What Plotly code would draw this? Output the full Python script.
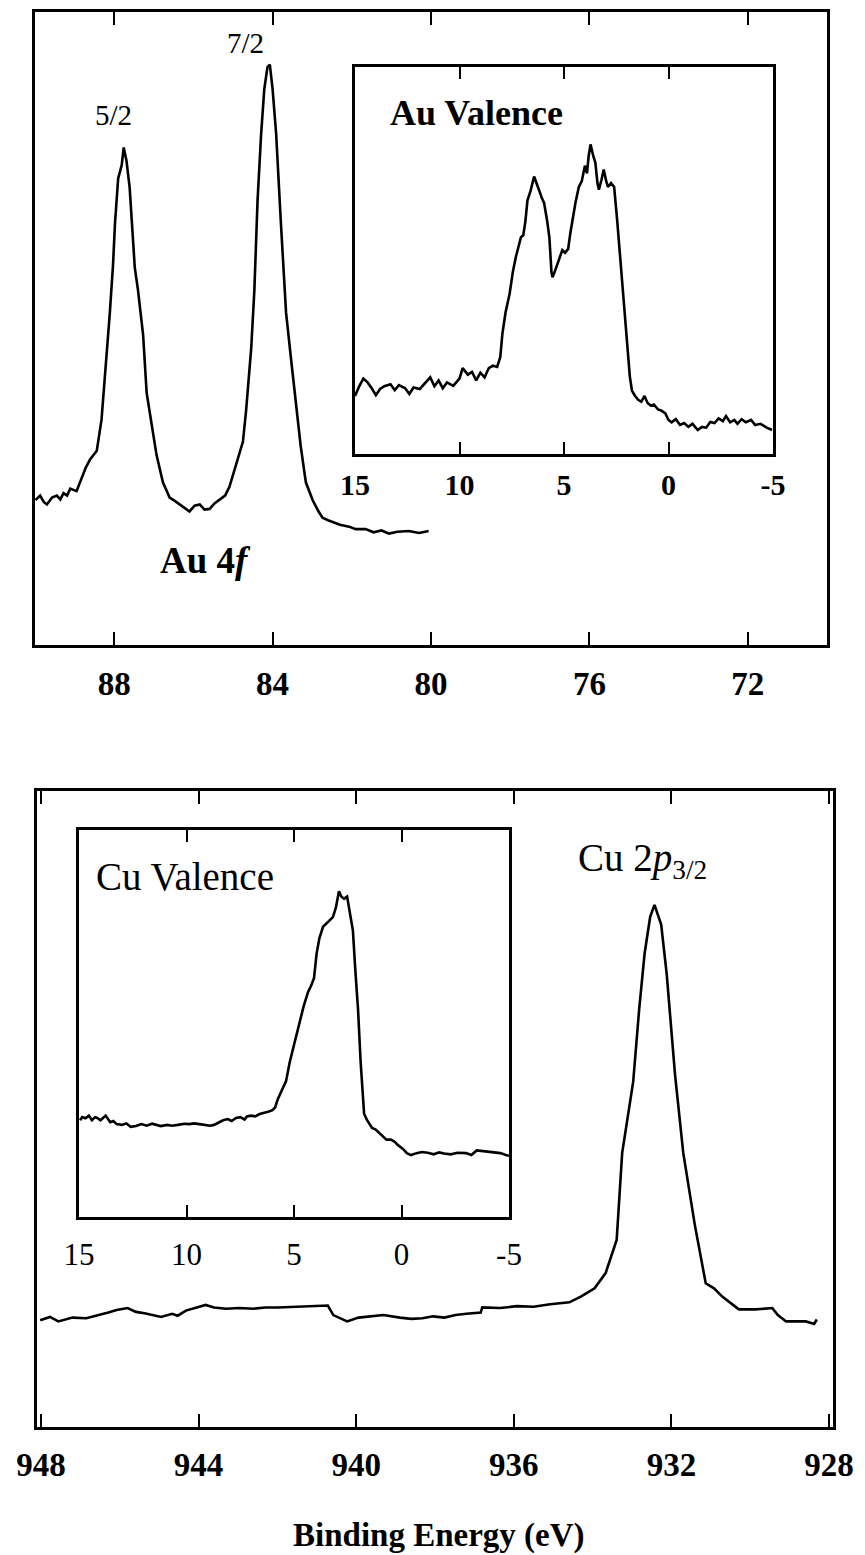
import plotly.graph_objects as go

W, H = 865, 1555
FONT = "Liberation Serif"

# ---------------- data ----------------
# Au 4f main spectrum: binding energy (eV) and normalized intensity
au4f_be = [89.99, 89.87, 89.78, 89.70, 89.57, 89.45, 89.36, 89.28, 89.19, 89.11, 88.95, 88.82,
           88.72, 88.61, 88.44, 88.32, 88.19, 88.11, 88.03, 87.98, 87.90, 87.81, 87.76, 87.69,
           87.61, 87.54, 87.48, 87.40, 87.27, 87.18, 87.06, 86.93, 86.77, 86.60, 86.48, 86.35,
           86.22, 86.10, 85.97, 85.84, 85.72, 85.59, 85.46, 85.34, 85.20, 85.09, 84.92, 84.75,
           84.67, 84.54, 84.46, 84.38, 84.29, 84.21, 84.13, 84.07, 84.00, 83.91, 83.79, 83.66,
           83.54, 83.41, 83.29, 83.16, 82.99, 82.85, 82.74, 82.60, 82.49, 82.30, 82.07, 81.90,
           81.65, 81.45, 81.25, 81.06, 80.85, 80.56, 80.30, 80.06]
au4f_int = [0.229, 0.236, 0.226, 0.222, 0.233, 0.236, 0.230, 0.240, 0.236, 0.247, 0.243, 0.264,
            0.280, 0.293, 0.307, 0.356, 0.455, 0.525, 0.600, 0.666, 0.737, 0.758, 0.786, 0.765,
            0.723, 0.660, 0.596, 0.561, 0.490, 0.398, 0.349, 0.300, 0.257, 0.233, 0.228, 0.222,
            0.216, 0.211, 0.220, 0.222, 0.214, 0.215, 0.224, 0.229, 0.236, 0.250, 0.285, 0.321,
            0.370, 0.469, 0.561, 0.702, 0.807, 0.878, 0.913, 0.917, 0.878, 0.807, 0.666, 0.525,
            0.455, 0.384, 0.314, 0.257, 0.229, 0.212, 0.201, 0.197, 0.194, 0.190, 0.187, 0.183,
            0.183, 0.178, 0.181, 0.176, 0.179, 0.180, 0.177, 0.180]

# Au valence inset
auval_be = [15.0, 14.8, 14.6, 14.4, 14.2, 14.0, 13.8, 13.6, 13.3, 13.1, 12.9, 12.6, 12.4, 12.2,
            11.9, 11.7, 11.4, 11.2, 11.0, 10.8, 10.6, 10.3, 10.0, 9.85, 9.6, 9.4, 9.2, 9.0, 8.8,
            8.6, 8.4, 8.2, 8.05, 7.95, 7.8, 7.6, 7.45, 7.3, 7.15, 7.06, 6.95, 6.85, 6.75, 6.6,
            6.43, 6.3, 6.2, 6.05, 5.95, 5.8, 5.7, 5.6, 5.55, 5.45, 5.3, 5.2, 5.08, 4.95, 4.8, 4.7,
            4.6, 4.45, 4.29, 4.15, 4.0, 3.9, 3.82, 3.73, 3.6, 3.5, 3.4, 3.33, 3.2, 3.1, 2.98, 2.9,
            2.75, 2.6, 2.45, 2.35, 2.2, 2.06, 1.95, 1.85, 1.75, 1.6, 1.45, 1.3, 1.15, 1.0, 0.85,
            0.7, 0.5, 0.33, 0.15, 0.0, -0.15, -0.35, -0.55, -0.75, -0.95, -1.15, -1.4, -1.6, -1.8,
            -2.0, -2.2, -2.4, -2.6, -2.75, -2.95, -3.15, -3.3, -3.5, -3.7, -3.95, -4.15, -4.4,
            -4.7, -4.95]
auval_int = [0.150, 0.175, 0.195, 0.185, 0.170, 0.152, 0.168, 0.175, 0.180, 0.165, 0.178, 0.170,
             0.155, 0.172, 0.168, 0.180, 0.198, 0.175, 0.190, 0.170, 0.185, 0.176, 0.195, 0.222,
             0.205, 0.212, 0.190, 0.210, 0.198, 0.222, 0.228, 0.225, 0.250, 0.310, 0.365, 0.415,
             0.470, 0.510, 0.545, 0.560, 0.565, 0.600, 0.655, 0.680, 0.717, 0.700, 0.683, 0.660,
             0.648, 0.600, 0.560, 0.470, 0.457, 0.470, 0.493, 0.505, 0.527, 0.520, 0.530, 0.570,
             0.605, 0.650, 0.690, 0.705, 0.745, 0.725, 0.770, 0.800, 0.770, 0.753, 0.700, 0.683,
             0.710, 0.735, 0.705, 0.690, 0.700, 0.690, 0.600, 0.535, 0.440, 0.338, 0.260, 0.200,
             0.164, 0.150, 0.140, 0.135, 0.150, 0.132, 0.125, 0.128, 0.115, 0.112, 0.105, 0.088,
             0.082, 0.090, 0.075, 0.080, 0.070, 0.078, 0.062, 0.070, 0.068, 0.083, 0.080, 0.092,
             0.085, 0.098, 0.082, 0.088, 0.078, 0.090, 0.082, 0.088, 0.075, 0.078, 0.068, 0.062]

# Cu 2p3/2 main spectrum
cu2p_be = [948.02, 947.77, 947.56, 947.20, 946.85, 946.50, 946.29, 946.08, 945.80, 945.59,
           945.37, 944.95, 944.67, 944.53, 944.32, 943.82, 943.61, 943.30, 942.97, 942.60,
           942.30, 941.99, 941.60, 941.20, 940.72, 940.58, 940.23, 939.94, 939.73, 939.31,
           938.89, 938.60, 938.32, 938.05, 937.76, 937.48, 937.20, 936.84, 936.80, 936.35,
           935.92, 935.50, 935.08, 934.59, 934.30, 933.95, 933.67, 933.39, 933.25, 932.97,
           932.82, 932.68, 932.54, 932.43, 932.26, 932.12, 931.91, 931.70, 931.41, 931.13,
           930.92, 930.71, 930.29, 929.86, 929.44, 929.30, 929.09, 928.59, 928.38, 928.31]
cu2p_int = [0.168, 0.173, 0.166, 0.172, 0.171, 0.176, 0.180, 0.184, 0.187, 0.181,
            0.179, 0.173, 0.178, 0.175, 0.183, 0.192, 0.188, 0.186, 0.187, 0.186,
            0.188, 0.188, 0.189, 0.190, 0.191, 0.176, 0.166, 0.172, 0.173, 0.176,
            0.172, 0.170, 0.171, 0.174, 0.172, 0.176, 0.178, 0.180, 0.188, 0.187,
            0.190, 0.189, 0.193, 0.196, 0.205, 0.218, 0.242, 0.294, 0.431, 0.543,
            0.656, 0.745, 0.802, 0.821, 0.790, 0.712, 0.555, 0.431, 0.319, 0.226,
            0.218, 0.205, 0.185, 0.185, 0.187, 0.176, 0.166, 0.166, 0.162, 0.169]

# Cu valence inset
cuval_be = [14.95, 14.85, 14.7, 14.54, 14.4, 14.25, 14.15, 14.0, 13.76, 13.55, 13.4, 13.25, 13.0,
            12.8, 12.6, 12.35, 12.1, 11.85, 11.6, 11.44, 11.2, 10.9, 10.67, 10.4, 10.1, 9.85, 9.65,
            9.4, 9.1, 8.9, 8.72, 8.5, 8.3, 8.08, 7.9, 7.7, 7.5, 7.3, 7.19, 7.0, 6.8, 6.6, 6.4, 6.2,
            6.0, 5.88, 5.75, 5.55, 5.37, 5.2, 5.1, 4.9, 4.72, 4.55, 4.35, 4.2, 4.07, 3.95, 3.82,
            3.65, 3.5, 3.3, 3.19, 3.05, 2.91, 2.8, 2.67, 2.53, 2.4, 2.26, 2.15, 2.02, 1.9, 1.8,
            1.74, 1.6, 1.45, 1.37, 1.2, 1.0, 0.86, 0.7, 0.5, 0.33, 0.15, -0.07, -0.25, -0.44, -0.7,
            -0.95, -1.22, -1.5, -1.75, -1.98, -2.3, -2.6, -3.0, -3.25, -3.5, -3.8, -4.1, -4.4,
            -4.6, -4.85, -5.0]
cuval_int = [0.250, 0.258, 0.255, 0.262, 0.250, 0.258, 0.256, 0.250, 0.262, 0.245, 0.248, 0.240,
             0.238, 0.242, 0.233, 0.235, 0.240, 0.236, 0.241, 0.238, 0.235, 0.238, 0.236, 0.238,
             0.241, 0.240, 0.242, 0.240, 0.238, 0.236, 0.238, 0.245, 0.250, 0.253, 0.248, 0.256,
             0.258, 0.252, 0.260, 0.262, 0.260, 0.266, 0.268, 0.272, 0.276, 0.283, 0.305, 0.330,
             0.351, 0.400, 0.424, 0.470, 0.507, 0.545, 0.581, 0.598, 0.617, 0.680, 0.720, 0.750,
             0.758, 0.768, 0.775, 0.800, 0.842, 0.828, 0.822, 0.828, 0.790, 0.740, 0.640, 0.535,
             0.400, 0.300, 0.267, 0.250, 0.238, 0.230, 0.226, 0.215, 0.210, 0.200, 0.200, 0.195,
             0.185, 0.176, 0.165, 0.160, 0.165, 0.168, 0.166, 0.162, 0.167, 0.164, 0.162, 0.166,
             0.165, 0.160, 0.172, 0.170, 0.168, 0.166, 0.165, 0.160, 0.158]

au4f_ticks = [88, 84, 80, 76, 72]
cu2p_ticks = [948, 944, 940, 936, 932, 928]
val_ticks = [15, 10, 5, 0, -5]

# ---------------- figure ----------------
LINE = dict(color="black", width=2.6)

fig = go.Figure()
fig.add_trace(go.Scatter(x=au4f_be, y=au4f_int, mode="lines", line=LINE, xaxis="x", yaxis="y"))
fig.add_trace(go.Scatter(x=auval_be, y=auval_int, mode="lines", line=LINE, xaxis="x2", yaxis="y2"))
fig.add_trace(go.Scatter(x=cu2p_be, y=cu2p_int, mode="lines", line=LINE, xaxis="x3", yaxis="y3"))
fig.add_trace(go.Scatter(x=cuval_be, y=cuval_int, mode="lines", line=LINE, xaxis="x4", yaxis="y4"))


def px_x(p):
    return p / W


def px_y(p):
    return 1 - p / H


def xax(domain, rng, ticks, anchor, fsize, bold, standoff, ticklen):
    return dict(domain=domain, range=rng, anchor=anchor, tickvals=ticks,
                ticktext=[str(t) for t in ticks], ticks="inside", ticklen=ticklen,
                tickwidth=2.2, tickcolor="black", showline=True, linewidth=2.6,
                linecolor="black", mirror="ticks", showgrid=False, zeroline=False,
                automargin=False, ticklabelstandoff=standoff,
                tickfont=dict(family=FONT, size=fsize, color="black",
                              weight="bold" if bold else "normal"))


def yax(domain, anchor):
    return dict(domain=domain, range=[0, 1], anchor=anchor, showticklabels=False,
                ticks="", showline=True, linewidth=2.6, linecolor="black", mirror=True,
                showgrid=False, zeroline=False, automargin=False)


fig.update_layout(
    template="none",
    width=W, height=H, margin=dict(l=0, r=0, t=0, b=0, pad=0), autosize=False,
    paper_bgcolor="white", plot_bgcolor="rgba(0,0,0,0)", showlegend=False,
    xaxis=xax([px_x(35), px_x(827)], [90, 70], au4f_ticks, "y", 33, True, 8, 13),
    yaxis=yax([px_y(645), px_y(12)], "x"),
    xaxis2=xax([px_x(355), px_x(773)], [15, -5], val_ticks, "y2", 30, True, 2, 12),
    yaxis2=yax([px_y(454), px_y(67)], "x2"),
    xaxis3=xax([px_x(37), px_x(833)], [948.1, 927.9], cu2p_ticks, "y3", 33, True, 7, 13),
    yaxis3=yax([px_y(1427), px_y(791)], "x3"),
    xaxis4=xax([px_x(79), px_x(509)], [15, -5], val_ticks, "y4", 31, False, 8, 12),
    yaxis4=yax([px_y(1217), px_y(830)], "x4"),
)

ann = [
    dict(x=84.69, y=0.951, xref="x", yref="y", text="7/2", font_size=29),
    dict(x=88.03, y=0.837, xref="x", yref="y", text="5/2", font_size=29),
    dict(x=85.69, y=0.133, xref="x", yref="y", text="<b>Au 4<i>f</i></b>", font_size=37),
    dict(x=9.18, y=0.881, xref="x2", yref="y2", text="<b>Au Valence</b>", font_size=36),
    dict(x=10.07, y=0.881, xref="x4", yref="y4", text="Cu Valence", font_size=39),
    dict(x=932.74, y=0.89, xref="x3", yref="y3", text="Cu 2<i>p</i><sub>3/2</sub>", font_size=39),
    dict(x=439 / W, y=1 - 1535 / H, xref="paper", yref="paper", text="<b>Binding Energy (eV)</b>",
         font_size=33),
]
for a in ann:
    fs = a.pop("font_size")
    fig.add_annotation(**a, showarrow=False, xanchor="center", yanchor="middle",
                       font=dict(family=FONT, size=fs, color="black"))

fig.write_html("out.html")
